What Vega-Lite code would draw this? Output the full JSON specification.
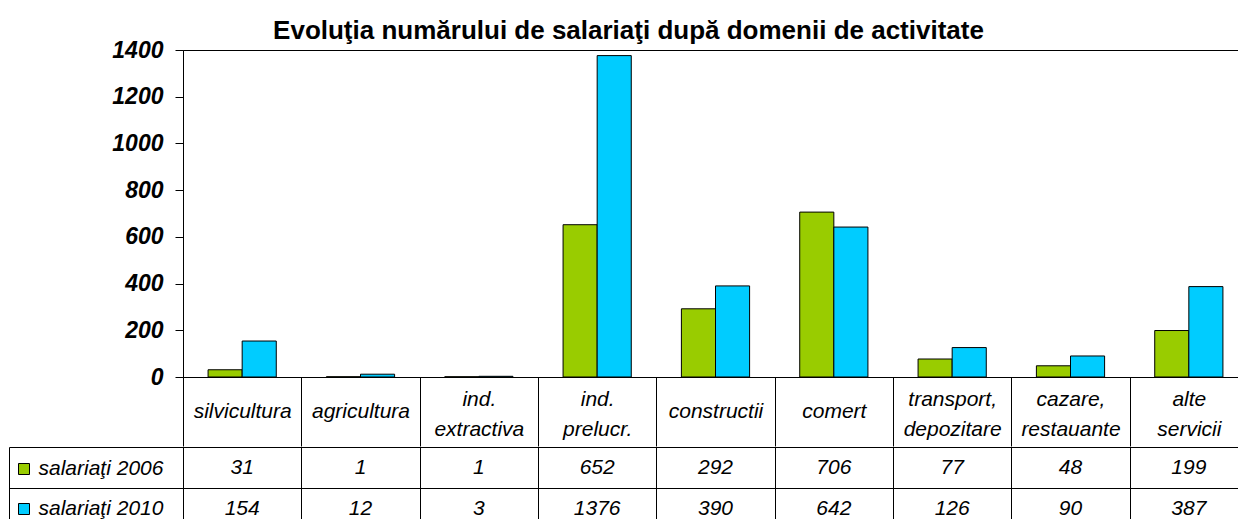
{
  "$schema": "https://vega.github.io/schema/vega-lite/v6.json",
  "padding": {"left": 8, "top": 17, "right": 0, "bottom": 0},
  "background": "white",
  "config": {"font": "Liberation Sans", "view": {"stroke": "black", "strokeWidth": 1}, "concat": {"spacing": -13}},
  "title": {"text": "Evoluţia numărului de salariaţi după domenii de activitate", "fontSize": 26, "fontWeight": "bold", "font": "Liberation Sans", "color": "black", "anchor": "middle", "offset": -5},
  "datasets": {
    "salariati": [
      {"domeniu": "silvicultura", "serie": "salariaţi 2006", "valoare": 31},
      {"domeniu": "agricultura", "serie": "salariaţi 2006", "valoare": 1},
      {"domeniu": "ind. extractiva", "serie": "salariaţi 2006", "valoare": 1},
      {"domeniu": "ind. prelucr.", "serie": "salariaţi 2006", "valoare": 652},
      {"domeniu": "constructii", "serie": "salariaţi 2006", "valoare": 292},
      {"domeniu": "comert", "serie": "salariaţi 2006", "valoare": 706},
      {"domeniu": "transport, depozitare", "serie": "salariaţi 2006", "valoare": 77},
      {"domeniu": "cazare, restauante", "serie": "salariaţi 2006", "valoare": 48},
      {"domeniu": "alte servicii", "serie": "salariaţi 2006", "valoare": 199},
      {"domeniu": "silvicultura", "serie": "salariaţi 2010", "valoare": 154},
      {"domeniu": "agricultura", "serie": "salariaţi 2010", "valoare": 12},
      {"domeniu": "ind. extractiva", "serie": "salariaţi 2010", "valoare": 3},
      {"domeniu": "ind. prelucr.", "serie": "salariaţi 2010", "valoare": 1376},
      {"domeniu": "constructii", "serie": "salariaţi 2010", "valoare": 390},
      {"domeniu": "comert", "serie": "salariaţi 2010", "valoare": 642},
      {"domeniu": "transport, depozitare", "serie": "salariaţi 2010", "valoare": 126},
      {"domeniu": "cazare, restauante", "serie": "salariaţi 2010", "valoare": 90},
      {"domeniu": "alte servicii", "serie": "salariaţi 2010", "valoare": 387}
    ]
  },
  "data": {"name": "salariati"},
  "vconcat": [
    {
      "width": 1065,
      "height": 327,
      "mark": {"type": "bar", "stroke": "black", "strokeWidth": 1},
      "encoding": {
        "x": {
          "field": "domeniu", "type": "nominal", "sort": null,
          "scale": {"paddingInner": 0, "paddingOuter": 0},
          "axis": {"title": null, "labelExpr": "split(datum.label, ' ')", "labelAngle": 0, "tickBand": "extent", "tickSize": 69, "tickColor": "black", "domainColor": "black",
            "labelPadding": {"condition": {"test": "indexof(datum.label, ' ') > 0", "value": -47}, "value": -35},
            "labelBaseline": "middle", "labelFontSize": 21, "labelFontStyle": "italic", "labelColor": "black", "labelLineHeight": 30, "labelLimit": 0}
        },
        "xOffset": {"field": "serie", "type": "nominal", "scale": {"paddingOuter": 0.735, "paddingInner": 0}},
        "y": {
          "field": "valoare", "type": "quantitative",
          "scale": {"domain": [0, 1400]},
          "axis": {"values": [0, 200, 400, 600, 800, 1000, 1200, 1400], "format": "d", "title": null, "grid": false, "tickSize": 8, "labelPadding": 12, "labelFontSize": 23, "labelFontWeight": "bold", "labelFontStyle": "italic", "domainColor": "black", "tickColor": "black", "labelColor": "black"}
        },
        "color": {
          "field": "serie", "type": "nominal",
          "scale": {"range": ["#99cc00", "#00ccff"]},
          "legend": {"orient": "none", "legendX": -165, "legendY": 413, "title": null, "symbolType": "square", "symbolSize": 121, "symbolStrokeColor": "black", "symbolStrokeWidth": 1, "symbolOpacity": 1, "labelExpr": "''", "labelFontSize": 10, "rowPadding": 24, "padding": 0}
        }
      }
    },
    {
      "width": 1065,
      "height": 81,
      "mark": {"type": "text", "fontSize": 21, "fontStyle": "italic", "color": "black", "dy": 1},
      "encoding": {
        "x": {
          "field": "domeniu", "type": "nominal", "sort": null,
          "scale": {"paddingInner": 0, "paddingOuter": 0},
          "axis": {"title": null, "labels": false, "ticks": false, "domain": false, "grid": true, "tickBand": "extent", "gridColor": "black", "gridOpacity": 1}
        },
        "y": {
          "field": "serie", "type": "nominal",
          "scale": {"paddingInner": 0, "paddingOuter": 0},
          "axis": {"title": null, "offset": 174, "tickSize": -174, "tickBand": "extent", "grid": true, "gridColor": "black", "gridOpacity": 1, "tickColor": "black", "domainColor": "black", "labelAlign": "left", "labelPadding": 145, "labelOffset": 1, "labelFontSize": 21, "labelFontStyle": "italic", "labelColor": "black", "labelLimit": 0}
        },
        "text": {"field": "valoare", "type": "quantitative"}
      }
    }
  ]
}
